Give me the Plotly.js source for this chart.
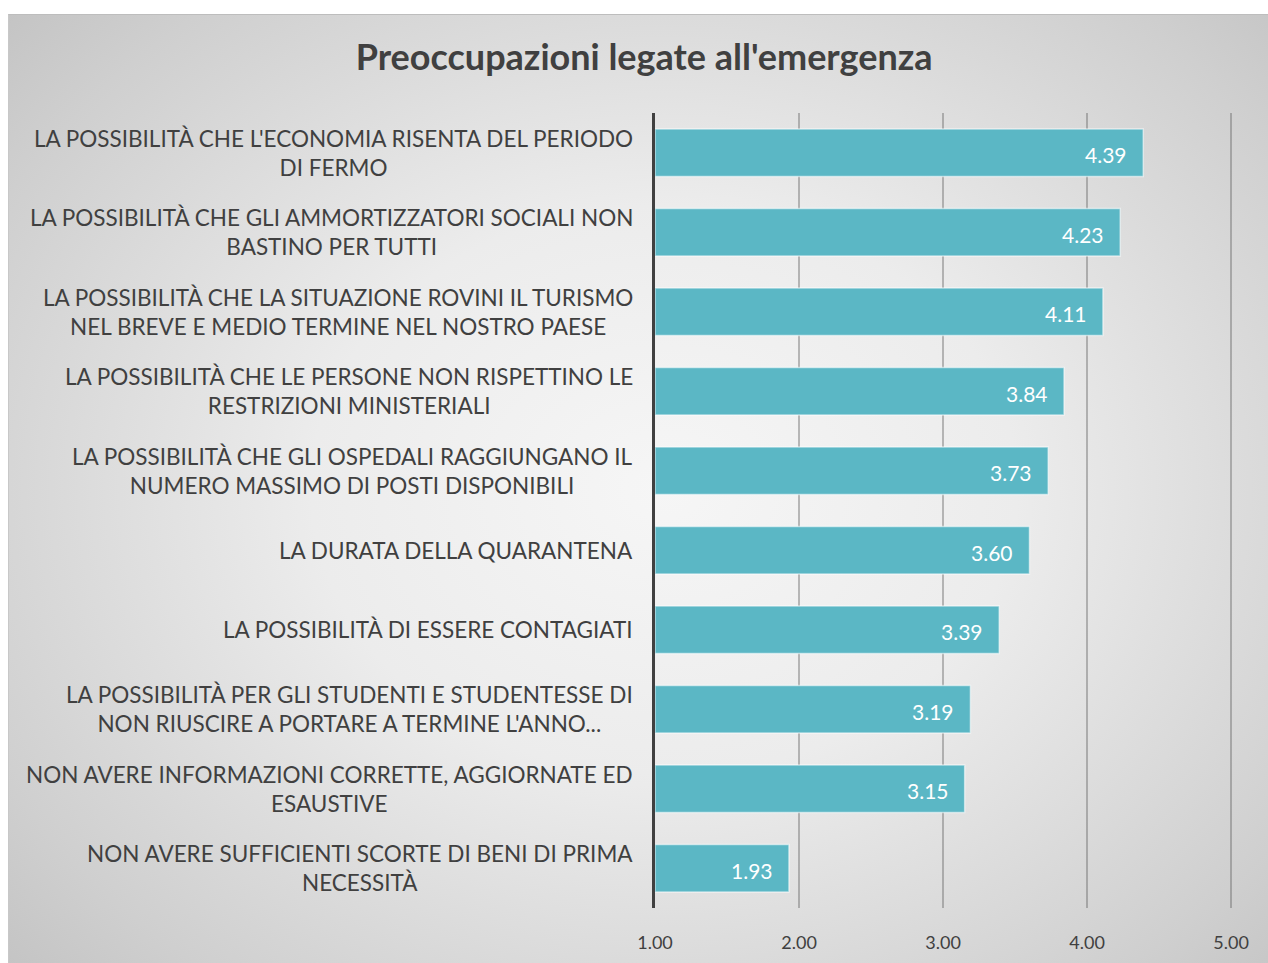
<!DOCTYPE html>
<html>
<head>
<meta charset="utf-8">
<script src="https://cdn.plot.ly/plotly-3.0.1.min.js"></script>
<style>
  html, body { margin: 0; padding: 0; background: #ffffff; }
  #bg { position: absolute; left: 8px; top: 14px; width: 1260px; height: 949px;
        background: radial-gradient(ellipse 70% 75% at 52% 50%, #f6f6f6 0%, #ececec 40%, #cfcfcf 85%, #c4c4c4 100%);
        border-top: 1px solid #bdbdbd; border-left: 1px solid #c8c8c8; }
  #chart { position: absolute; left: 0; top: 0; width: 1268px; height: 963px; }
</style>
</head>
<body>
<div id="bg"></div>
<div id="chart"></div>
<script>
const categories = [
  "LA POSSIBILITÀ CHE L'ECONOMIA RISENTA DEL PERIODO<br>DI FERMO",
  "LA POSSIBILITÀ CHE GLI AMMORTIZZATORI SOCIALI NON<br>BASTINO PER TUTTI",
  "LA POSSIBILITÀ CHE LA SITUAZIONE ROVINI IL TURISMO<br>NEL BREVE E MEDIO TERMINE NEL NOSTRO PAESE",
  "LA POSSIBILITÀ CHE LE PERSONE NON RISPETTINO LE<br>RESTRIZIONI MINISTERIALI",
  "LA POSSIBILITÀ CHE GLI OSPEDALI RAGGIUNGANO IL<br>NUMERO MASSIMO DI POSTI DISPONIBILI",
  "LA DURATA DELLA QUARANTENA",
  "LA POSSIBILITÀ DI ESSERE CONTAGIATI",
  "LA POSSIBILITÀ PER GLI STUDENTI E STUDENTESSE DI<br>NON RIUSCIRE A PORTARE A TERMINE L'ANNO...",
  "NON AVERE INFORMAZIONI CORRETTE, AGGIORNATE ED<br>ESAUSTIVE",
  "NON AVERE SUFFICIENTI SCORTE DI BENI DI PRIMA<br>NECESSITÀ"
];
const values = [4.39, 4.23, 4.11, 3.84, 3.73, 3.60, 3.39, 3.19, 3.15, 1.93];
const tickValues = [1, 2, 3, 4, 5];
const tickLabels = ["1.00", "2.00", "3.00", "4.00", "5.00"];
const chartTitle = "Preoccupazioni legate all'emergenza";

const labelFont = "Lato, 'Open Sans', sans-serif";

const trace = {
  type: 'bar',
  orientation: 'h',
  y: categories,
  x: values.map(v => v - 1),
  base: 1,
  marker: { color: '#5bb7c5', line: { color: 'rgba(255,255,255,0.55)', width: 1.5 } },
  hoverinfo: 'none'
};

const annotations = [];
categories.forEach((c, i) => {
  annotations.push({
    xref: 'x', yref: 'y', x: values[i], y: c,
    text: values[i].toFixed(2), showarrow: false,
    xanchor: 'right', xshift: -14, yshift: -2,
    font: { family: labelFont, size: 21, color: '#ffffff' }
  });
  annotations.push({
    xref: 'paper', yref: 'y', x: 0, y: c,
    text: c, showarrow: false, align: 'center',
    xanchor: 'right', xshift: -20,
    font: { family: labelFont, size: 22.5, color: '#404040' }
  });
});

const layout = {
  width: 1268, height: 963,
  paper_bgcolor: 'rgba(0,0,0,0)',
  plot_bgcolor: 'rgba(0,0,0,0)',
  margin: { l: 655, r: 34, t: 113, b: 55 },
  title: { text: chartTitle, x: 0.508, xanchor: 'center', y: 0.94, yanchor: 'middle',
           font: { family: labelFont, size: 36, color: '#404040', weight: 'bold' } },
  showlegend: false,
  bargap: 0.4,
  xaxis: {
    range: [1, 5.02], tickvals: tickValues, ticktext: tickLabels,
    showgrid: true, gridcolor: 'rgba(100,100,100,0.42)', gridwidth: 1.5,
    zeroline: false, showline: false, ticks: '',
    tickfont: { family: labelFont, size: 18, color: '#404040' },
    ticklabelstandoff: 22
  },
  yaxis: {
    type: 'category', autorange: 'reversed',
    showticklabels: false, showgrid: false, zeroline: false,
    showline: true, linecolor: '#404040', linewidth: 3, ticks: ''
  },
  annotations: annotations
};

Plotly.newPlot('chart', [trace], layout, { displayModeBar: false, staticPlot: true });
</script>
</body>
</html>
